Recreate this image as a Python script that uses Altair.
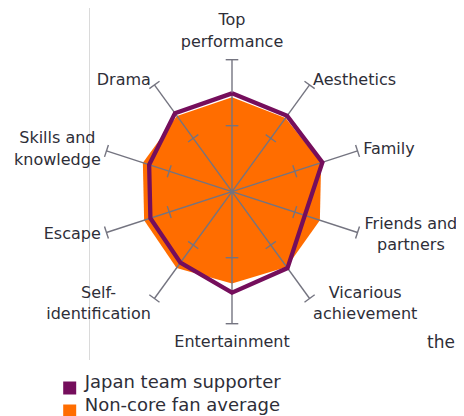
import math
import altair as alt
import pandas as pd

# ---------------- data ----------------
categories = ["Top performance", "Aesthetics", "Family", "Friends and partners",
              "Vicarious achievement", "Entertainment", "Self-identification",
              "Escape", "Skills and knowledge", "Drama"]
axis_labels = ["Top\nperformance", "Aesthetics", "Family", "Friends and\npartners",
               "Vicarious\nachievement", "Entertainment", "Self-\nidentification",
               "Escape", "Skills and\nknowledge", "Drama"]
japan_team_supporter = [74.5, 71, 72, 58, 71.5, 76.5, 66.5, 65, 66, 73.5]
non_core_fan_average = [71.5, 69, 71, 70, 70.5, 69.5, 71.5, 70, 71, 71]
series = ["Japan team supporter", "Non-core fan average"]
colors = ["#750E5C", "#FF6D00"]
axis_max = 100
axis_ticks = [50, 100]
side_note = ["the"]

# ---------------- layout ----------------
FONT = "DejaVu Sans"
TEXT = "#2E2E38"
GRAY = "#747480"
W, H = 448, 408
K = 1.32                 # pixels per unit
CX, CY = 224.0, 183.7    # centre of the radar in view pixels
LH = 21.5                # label line height

n = len(categories)
angles = [2 * math.pi * i / n for i in range(n)]


def polar(r, a):
    return r * math.sin(a), r * math.cos(a)


xs = alt.Scale(domain=[-CX / K, (W - CX) / K], nice=False, zero=False)
ys = alt.Scale(domain=[-(H - CY) / K, CY / K], nice=False, zero=False)
X = alt.X("x:Q", scale=xs, axis=None)
Y = alt.Y("y:Q", scale=ys, axis=None)


def poly(vals, name):
    rows = []
    for i in range(n + 1):
        j = i % n
        x, y = polar(vals[j], angles[j])
        rows.append({"x": x, "y": y, "i": i, "series": name, "category": categories[j]})
    return pd.DataFrame(rows)


# spokes
spoke_rows = []
for a in angles:
    x2, y2 = polar(axis_max, a)
    spoke_rows.append({"x": 0, "y": 0, "x2": x2, "y2": y2})
spokes_df = pd.DataFrame(spoke_rows)

# end caps / tick marks perpendicular to spokes
h = 6.3 / K
cap_rows = []
for r in axis_ticks:
    for a in angles:
        cx, cy = polar(r, a)
        px, py = math.cos(a) * h, -math.sin(a) * h
        cap_rows.append({"x": cx - px, "y": cy - py, "x2": cx + px, "y2": cy + py})
caps_df = pd.DataFrame(cap_rows)

# label widths (approx. DejaVu Sans advance widths, em)
WID = {'a': .613, 'b': .635, 'c': .550, 'd': .635, 'e': .615, 'f': .352, 'g': .635,
       'h': .634, 'i': .278, 'j': .278, 'k': .579, 'l': .278, 'm': .974, 'n': .634,
       'o': .612, 'p': .635, 'q': .635, 'r': .411, 's': .521, 't': .392, 'u': .634,
       'v': .592, 'w': .818, 'x': .592, 'y': .592, 'z': .525, ' ': .318, '-': .361}
LABEL_SIZE = 16


def text_width(s, size):
    return sum(WID.get(ch, .66) for ch in s) * size


label_rows = []
for i, a in enumerate(angles):
    s, c = math.sin(a), math.cos(a)
    lines = axis_labels[i].split("\n")
    extra = len(lines) - 1
    if abs(s) < 0.1:
        x, y = polar(axis_max + 10 / K, a)
        align = "center"
        if c > 0:
            baseline = "bottom"
            y += extra * LH / K
        else:
            baseline = "top"
    else:
        x, y = polar(axis_max + 6 / K, a)
        baseline = "middle"
        y += extra * LH / 2 / K
        if len(lines) > 1:
            wmax = max(text_width(l, LABEL_SIZE) for l in lines)
            x += math.copysign(wmax / 2 / K, s)
            align = "center"
        else:
            align = "left" if s > 0 else "right"
    label_rows.append({"x": x, "y": y, "label": axis_labels[i], "align": align, "baseline": baseline})
labels_df = pd.DataFrame(label_rows)

# ---------------- layers ----------------
vline = alt.Chart(pd.DataFrame({"a": [0]})).mark_rule(color="#DADADA", strokeWidth=1).encode(
    x=alt.value(81.5), y=alt.value(0), y2=alt.value(352))

fill_scale = alt.Scale(domain=series, range=colors)
orange = alt.Chart(poly(non_core_fan_average, series[1])).mark_line(
    stroke=colors[1], strokeWidth=0, strokeJoin="miter").encode(
    x=X, y=Y, order=alt.Order("i:Q"),
    fill=alt.Fill("series:N", scale=fill_scale,
                  legend=alt.Legend(title=None, orient="none", legendX=52.7, legendY=371,
                                    direction="vertical", symbolType="square", symbolSize=169,
                                    symbolStrokeWidth=0, symbolStrokeColor="transparent",
                                    labelFont=FONT, labelFontSize=18, labelColor=TEXT,
                                    labelBaseline="alphabetic", labelOffset=6,
                                    labelLimit=400, rowPadding=2, padding=0)))

spokes = alt.Chart(spokes_df).mark_rule(color=GRAY, strokeWidth=1.4).encode(
    x=X, y=Y, x2="x2:Q", y2="y2:Q")
caps = alt.Chart(caps_df).mark_rule(color=GRAY, strokeWidth=1.4).encode(
    x=X, y=Y, x2="x2:Q", y2="y2:Q")
centre = alt.Chart(pd.DataFrame({"x": [0], "y": [0]})).mark_circle(
    size=18, color=GRAY, opacity=1).encode(x=X, y=Y)

purple = alt.Chart(poly(japan_team_supporter, series[0])).mark_line(
    color=colors[0], strokeWidth=4.3, strokeJoin="miter").encode(
    x=X, y=Y, order=alt.Order("i:Q"))

label_layers = []
for (al, bl), grp in labels_df.groupby(["align", "baseline"]):
    label_layers.append(
        alt.Chart(grp).mark_text(align=al, baseline=bl, font=FONT, fontSize=LABEL_SIZE,
                                 color=TEXT, lineBreak="\n", lineHeight=LH).encode(
            x=X, y=Y, text="label:N"))

note = alt.Chart(pd.DataFrame({"t": side_note})).mark_text(
    align="right", baseline="alphabetic", font=FONT, fontSize=17, color=TEXT).encode(
    x=alt.value(447), y=alt.value(340), text="t:N")

chart = alt.layer(vline, orange, spokes, caps, centre, purple, *label_layers, note).properties(
    width=W, height=H, padding=0, autosize=alt.AutoSizeParams(type="none")
).configure_view(stroke=None)

chart.save("out.html", embed_options={"renderer": "svg", "actions": False})
